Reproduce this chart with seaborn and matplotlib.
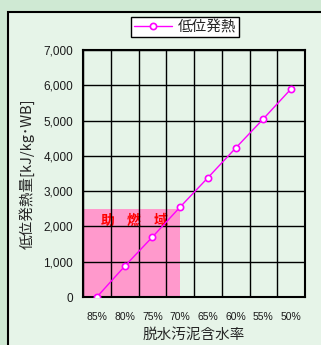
import matplotlib
matplotlib.use("Agg")
import matplotlib.pyplot as plt
from matplotlib.patches import Rectangle
import seaborn as sns
import pandas as pd
import numpy as np

moisture = ["85%", "80%", "75%", "70%", "65%", "60%", "55%", "50%"]
heat_value = [0, 870, 1700, 2550, 3380, 4220, 5050, 5900]
series_name = "低位発熱"
zone_label = ["助", "燃", "域"]
zone_end = "70%"
zone_top = 2500
y_ticks = [0, 1000, 2000, 3000, 4000, 5000, 6000, 7000]

sns.set_theme(style="white")
plt.rcParams['font.family'] = ['Liberation Sans', 'Noto Sans CJK JP', 'DejaVu Sans']

df = pd.DataFrame({"moisture": moisture, "heat": heat_value})

fig = plt.figure(figsize=(3.21, 3.45), dpi=100)
fig.patch.set_facecolor("#cfe9d3")
panel = Rectangle((8/321, -0.05), 1.1, 0.05 + 1 - 12/345, transform=fig.transFigure,
                  facecolor="#e6f4e8", edgecolor="black", linewidth=1.5, zorder=-5)
fig.patches.append(panel)

ax = fig.add_axes([83/321, 1 - 297/345, (305 - 83)/321, (297 - 50)/345])
ax.set_zorder(2)
ax.set_facecolor("#e6f4e8")

# combustion-aid zone
zi = moisture.index(zone_end)
ax.fill_between([-0.5, zi], 0, zone_top, color="#ff99cc", linewidth=0, zorder=1)
for i, ch in enumerate(zone_label):
    ax.text(0.38 + i * 0.95, 2150, ch, color="#ff0000", fontsize=10, fontweight="bold",
            ha="center", va="center", zorder=2, family=['Noto Sans CJK JP'])

sns.lineplot(data=df, x="moisture", y="heat", ax=ax, color="#ff00ff", linewidth=1,
             marker="o", markersize=4.5, markerfacecolor="white", markeredgecolor="#ff00ff",
             markeredgewidth=1.2, label=series_name, zorder=5, sort=False)

ax.set_xlim(-0.5, len(moisture) - 0.5)
ax.set_ylim(0, 7000)
ax.set_yticks(y_ticks)
ax.set_yticklabels([f"{v:,}" for v in y_ticks], fontsize=8.5, color="#1a1a1a")
ax.set_xticks(range(len(moisture)))
ax.set_xticklabels(moisture, fontsize=7.5, color="#1a1a1a")
ax.set_xticks(np.arange(-0.5, len(moisture), 1), minor=True)
ax.grid(False)
ax.grid(True, which="minor", axis="x", color="black", linewidth=1, zorder=3)
ax.grid(True, which="major", axis="y", color="black", linewidth=1, zorder=3)
ax.set_axisbelow(False)
ax.tick_params(axis="x", which="major", direction="in", length=2, width=1, color="black", pad=11)
ax.tick_params(axis="x", which="minor", length=0)
ax.tick_params(axis="y", which="major", direction="out", length=3, width=1, color="black", pad=4)
for s in ax.spines.values():
    s.set_color("black")
    s.set_linewidth(1.5)

ax.set_xlabel("脱水汚泥含水率", fontsize=10.5, labelpad=4, family=['Noto Sans CJK JP'])
ax.set_ylabel("低位発熱量[kJ/kg･WB]", fontsize=10.5, labelpad=6, family=['Noto Sans CJK JP', 'DejaVu Sans'])

ax.legend_.remove()
leg = fig.legend(*ax.get_legend_handles_labels(), loc="center", bbox_to_anchor=(185/321, 1 - 27/345),
                 frameon=True, fancybox=False, edgecolor="black", facecolor="white", framealpha=1,
                 handlelength=2.6, handletextpad=0.4, borderpad=0.2,
                 prop={'family': ['Noto Sans CJK JP'], 'size': 10.5})
leg.get_frame().set_linewidth(1)

fig.savefig("out.png", dpi=100, facecolor=fig.get_facecolor())
